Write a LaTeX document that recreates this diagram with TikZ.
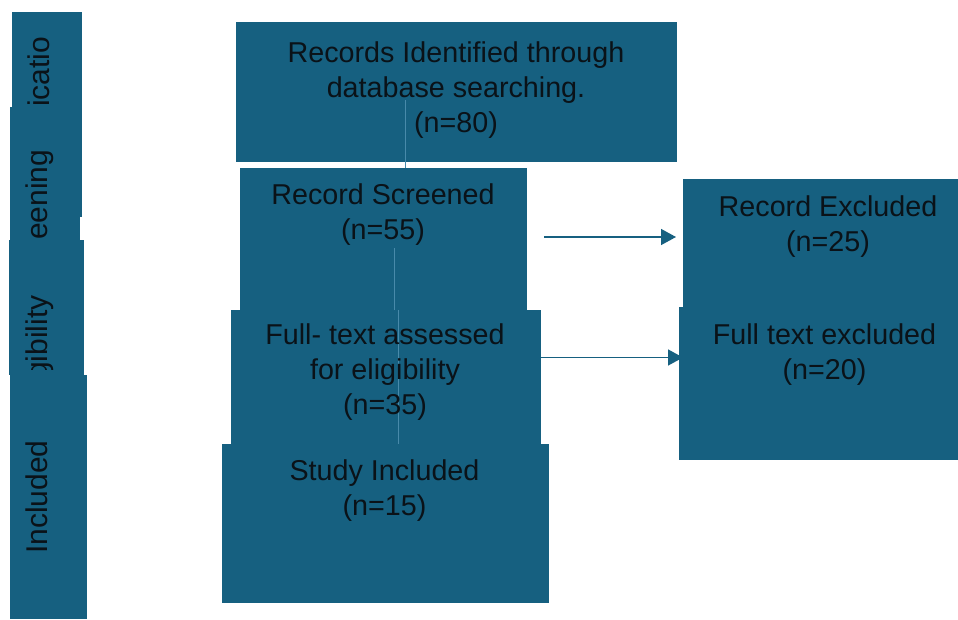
\documentclass[tikz,border=0pt]{standalone}
\usepackage{fontspec}
\setmainfont{Liberation Sans}
\usetikzlibrary{arrows.meta,calc}
\definecolor{boxblue}{RGB}{22,96,128}
\definecolor{linkblue}{RGB}{72,138,170}
\definecolor{txt}{RGB}{10,18,24}
\begin{document}
\begin{tikzpicture}[x=1pt,y=-1pt,
  box/.style={fill=boxblue, draw=none, inner sep=0pt, outer sep=0pt, anchor=north west, rectangle},
  lbl/.style={font=\fontsize{28.7}{35}\selectfont, text=txt, align=center, inner sep=0pt, anchor=north},
  side/.style={font=\fontsize{30}{36}\selectfont, text=txt, rotate=90, inner sep=0pt},
  link/.style={draw=linkblue, line width=1pt},
  arr/.style={draw=boxblue, line width=1.5pt, -{Triangle[length=15pt,width=16pt]}}]
\path[use as bounding box, fill=white] (0,0) rectangle (958,619);

% left column
\node[box, minimum width=70pt, minimum height=205pt] (L1) at (12,12) {};
\node[side, anchor=base west] (s1) at (49,107) {icatio};
\node[box, minimum width=70pt, minimum height=133pt] (L2) at (10,107) {};
\node[side, anchor=base west] (s2) at (47,240) {eening};
\node[box, minimum width=75pt, minimum height=135pt] (L3) at (9,240) {};
\begin{scope}
  \clip (0,240) rectangle (100,369);
  \node[side, anchor=base west] (s3) at (47,379) {gibility};
\end{scope}
\node[box, minimum width=77pt, minimum height=244pt] (L4) at (10,375) {};
\node[side, anchor=base] (s4) at (47,497) {Included};

% main boxes
\node[box, minimum width=441pt, minimum height=140pt] (A) at (236,22) {};
\node[box, minimum width=287pt, minimum height=142pt] (B) at (240,168) {};
\node[box, minimum width=310pt, minimum height=135pt] (C) at (231,310) {};
\node[box, minimum width=327pt, minimum height=159pt] (D) at (222,444) {};
\node[box, minimum width=275pt, minimum height=128pt] (E) at (683,179) {};
\node[box, minimum width=279pt, minimum height=153pt] (F) at (679,307) {};

% links
\coordinate (ab) at (405,100);
\draw[link] (ab) -- (ab |- B.north);
\coordinate (bc) at (394,248);
\draw[link] (bc) -- (bc |- C.north);
\coordinate (cd) at (398,310);
\draw[link] (cd) -- (cd |- D.north);

% arrows
\coordinate (b1) at (544,237);
\draw[arr] (b1) -- ([xshift=-7pt]E.west |- b1);
\coordinate (c1) at (530,357.5);
\draw[arr] (c1) -- ([xshift=4pt]F.west |- c1);

% texts
\node[lbl] (tA) at (456,41) {Records Identified through\\database searching.\\(n=80)};
\node[lbl] (tB) at (383,183) {Record Screened\\(n=55)};
\node[lbl] (tC) at (385,323) {Full- text assessed\\for eligibility\\(n=35)};
\node[lbl] (tD) at (384.5,459) {Study Included\\(n=15)};
\node[lbl] (tE) at (828,195) {Record Excluded\\(n=25)};
\node[lbl] (tF) at (824.5,323) {Full text excluded\\(n=20)};
\end{tikzpicture}
\end{document}
